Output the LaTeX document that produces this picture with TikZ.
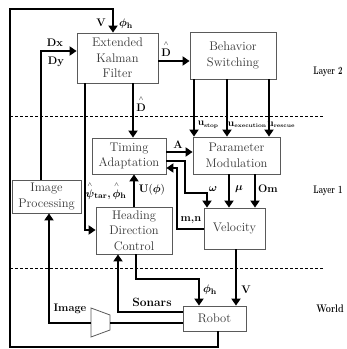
\documentclass[tikz,border=0pt]{standalone}
\usepackage{bm}
\usetikzlibrary{arrows.meta}
\definecolor{boxline}{HTML}{5A5A5A}
\definecolor{boxtext}{HTML}{383838}
\tikzset{
 blk/.style={draw=boxline, line width=0.8pt, fill=white, text=boxtext, align=center, font=\fontsize{12.5}{15.5}\selectfont, inner sep=1pt},
 conn/.style={line width=2.6pt, black},
 arr/.style={conn, -{Triangle[length=7pt,width=9pt]}},
 lbl/.style={font=\fontsize{11}{13}\selectfont\bfseries, inner sep=0pt},
 ulbl/.style={font=\fontsize{10}{12}\selectfont\bfseries, inner sep=0pt},
 sep/.style={densely dashed, line width=0.9pt},
 cam/.style={draw=boxline, line width=0.8pt, fill=white},
}
\newcommand{\usub}[1]{\textbf{u}\raisebox{-1.5pt}{\fontsize{5.5}{6}\selectfont\bfseries #1}}
\newcommand{\hatover}[1]{\shortstack{{\fontsize{6}{6}\selectfont$\wedge$}\\#1}}
\begin{document}
\begin{tikzpicture}[x=1pt,y=-1pt]
\useasboundingbox (0,0) rectangle (347,349);
% separators
\draw[sep] (10,116) -- (323,116);
\draw[sep] (10,268) -- (323,268);
% blocks
\node[blk, minimum width=81pt, minimum height=50pt] (EKF) at (117.5,58) {Extended\\Kalman\\Filter};
\node[blk, minimum width=86pt, minimum height=47pt] (BS) at (233,55.5) {Behavior\\Switching};
\node[blk, minimum width=74pt, minimum height=36pt] (TA) at (129,156) {Timing\\Adaptation};
\node[blk, minimum width=87pt, minimum height=37pt] (PM) at (236.5,155.5) {Parameter\\Modulation};
\node[blk, minimum width=69pt, minimum height=33pt] (IP) at (46.5,196.5) {Image\\Processing};
\node[blk, minimum width=76pt, minimum height=47pt] (HDC) at (134,230.5) {Heading\\Direction\\Control};
\node[blk, minimum width=61pt, minimum height=41pt] (VEL) at (234.5,228.5) {Velocity};
\node[blk, minimum width=63pt, minimum height=25pt] (ROB) at (214.5,318.5) {Robot};
% camera trapezoid
\coordinate (camL) at (91,323);
\coordinate (camR) at (110,323);
\draw[cam] (91,308) -- (110,315) -- (110,330) -- (91,337) -- cycle;
% connectors
\draw[arr] ([xshift=3.5pt]ROB.south) |- (10,347) |- (113,9) -- (113,0 |- EKF.north);
\draw[arr] (41,0 |- IP.north) |- (EKF.west |- 0,51);
\draw[arr] (EKF.east |- 0,61) -- (BS.west |- 0,61);
\draw[arr] (85,0 |- EKF.south) |- (HDC.west |- 0,230);
\draw[arr] (133,0 |- EKF.south) -- (133,0 |- TA.north);
\draw[arr] (194,0 |- BS.south) -- (194,0 |- PM.north);
\draw[arr] (227,0 |- BS.south) -- (227,0 |- PM.north);
\draw[arr] (269,0 |- BS.south) -- (269,0 |- PM.north);
\draw[arr] (TA.east |- 0,152) -- (PM.west |- 0,152);
\draw[arr] (TA.east |- 0,161) -| (185,193) -| (207,0 |- VEL.north);
\draw[arr] (229,0 |- PM.south) -- (229,0 |- VEL.north);
\draw[arr] (255,0 |- PM.south) -- (255,0 |- VEL.north);
\draw[arr] (VEL.west |- 0,229) -| (177,168) -- (TA.east |- 0,168);
\draw[arr] (134,0 |- HDC.north) -- (134,0 |- TA.south);
\draw[arr] (136,0 |- HDC.south) |- (199,279) -- (199,0 |- ROB.north);
\draw[arr] (236,0 |- VEL.south) -- (236,0 |- ROB.north);
\draw[arr] (ROB.west |- 0,312) -| (118,0 |- HDC.south);
\draw[conn] (ROB.west |- 0,323) -- (camR);
\draw[arr] (camL) -| (49,0 |- IP.south);
% labels
\node[lbl] (lV) at (101,23) {V};
\node[lbl] (lphi) at (126,24) {$\bm{\phi}_{\mathbf{h}}$};
\node[lbl] (lDx) at (55,43) {Dx};
\node[lbl] (lDy) at (56,62) {Dy};
\node[lbl, anchor=base] (lD1) at (166,56) {\hatover{D}};
\node[lbl, anchor=base] (lD2) at (141,111) {\hatover{D}};
\node[lbl] (lA) at (178,145) {A};
\node[ulbl] (lus) at (208,125) {\usub{stop}};
\node[ulbl] (lue) at (247,125) {\usub{execution}};
\node[ulbl] (lur) at (281,125) {\usub{rescue}};
\node[lbl, anchor=base] (lpsi) at (106,197) {\hatover{$\bm{\psi}$}$_{\mathbf{tar}}$,\,\hatover{$\bm{\phi}$}$_{\mathbf{h}}$};
\node[lbl] (lU) at (152,190) {$\mathbf{U}(\bm{\phi})$};
\node[lbl] (lom) at (213,189) {$\bm{\omega}$};
\node[lbl] (lmu) at (239,189) {$\bm{\mu}$};
\node[lbl] (lOm) at (268,189) {Om};
\node[lbl] (lmn) at (191,220) {m,n};
\node[lbl] (lImg) at (70,309) {Image};
\node[lbl, font=\fontsize{12}{14}\selectfont\bfseries] (lSon) at (152,302) {Sonars};
\node[lbl] (lphi2) at (210,290) {$\bm{\phi}_{\mathbf{h}}$};
\node[lbl] (lV2) at (246,290) {V};
\node[lbl] (lay2) at (328,72) {\scalebox{0.72}[1]{Layer 2}};
\node[lbl] (lay1) at (328,191) {\scalebox{0.72}[1]{Layer 1}};
\node[lbl] (lay0) at (330,309) {\scalebox{0.82}[1]{World}};
\end{tikzpicture}
\end{document}
